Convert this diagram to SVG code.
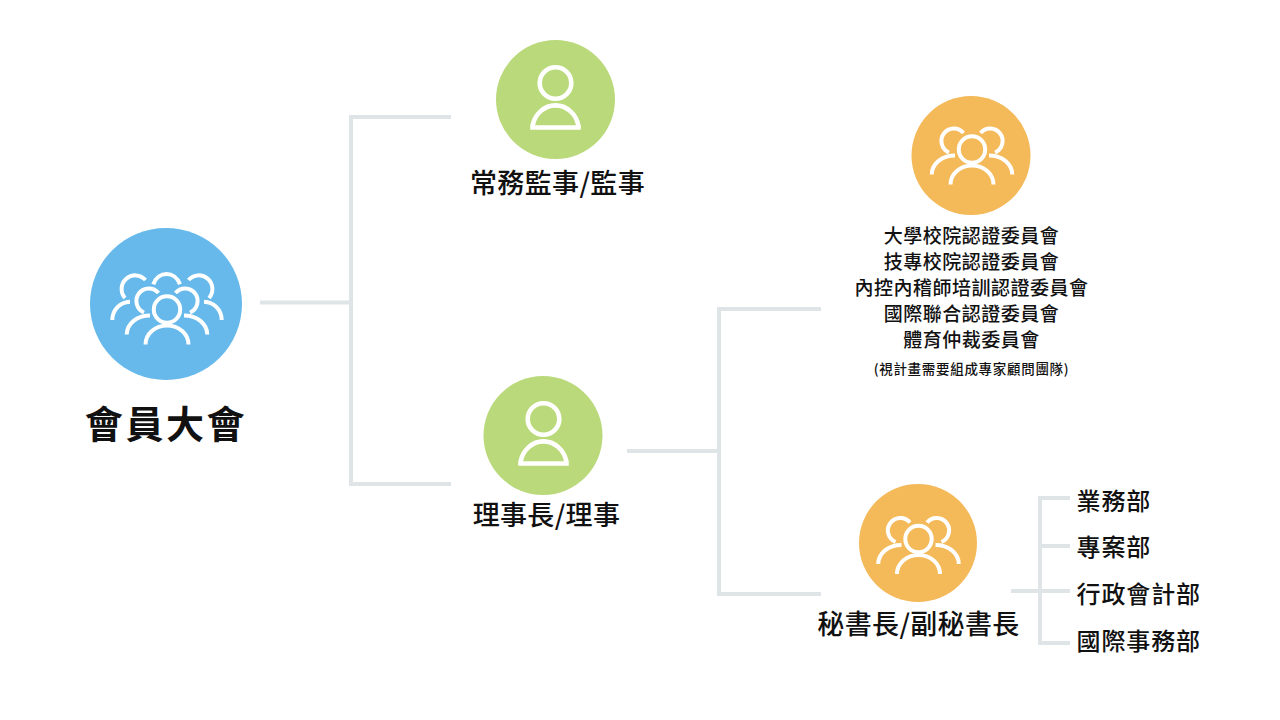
<svg xmlns="http://www.w3.org/2000/svg" width="1280" height="720" viewBox="0 0 1280 720">
<style>
text{font-family:"Noto Sans CJK TC","Noto Sans CJK SC",sans-serif;fill:#111;text-anchor:middle}
.m{font-size:27px;font-weight:500;letter-spacing:.35px}
.c{font-size:19px;font-weight:500;letter-spacing:.5px}
.d{font-size:24px;font-weight:500;letter-spacing:.9px;text-anchor:start}
.s{font-size:13.5px;font-weight:500;letter-spacing:.7px}
.l{fill:none;stroke:#dfe4e6;stroke-width:4}
.i{fill:none;stroke:#fff;stroke-width:4}
.p{stroke-width:4.600}
</style>
<defs>
<g id="person" class="i p"><circle cx="0" cy="0" r="15.800"/><path d="M-23,44.500H23V43A23.500,26 0 0 0 -23,43Z"/></g>
<g id="trio" class="i"><circle cx="0" cy="0" r="13.200"/><path d="M-21.500,35A21.500,19 0 0 1 21.500,35"/><path d="M-8.500,-16.500A12.500,12.500 0 1 0 -23,3M-40.300,25C-40,14 -30,6 -17,6"/><path d="M8.500,-16.500A12.500,12.500 0 1 1 23,3M40.300,25C40,14 30,6 17,6"/></g>
</defs>
<g id="connectors" class="l">
<path d="M260,302.500H351M451,117H351V484H451"/>
<path d="M627,451H719M821,309H719V594H821"/>
<path d="M1011,591H1070M1070,498H1040V643H1070M1040,546H1070"/>
</g>
<g id="node-assembly"><circle cx="166" cy="304" r="76" fill="#66b9ea"/>
<use href="#trio" x="167" y="309.500"/>
<path class="i" d="M153.300,284.300C158,270.500 175,270.500 180,284.300M145.500,280A12.500,12.500 0 1 0 125,298M112.300,320C112.500,310 120,302 130,301.700M188.500,280A12.500,12.500 0 1 1 209,298M221.700,320C221.500,310 214,302 204,301.700"/>
<text x="166" y="438" style="font-size:38px;font-weight:700;letter-spacing:2.600px">會員大會</text></g>
<g id="node-supervisors"><circle cx="555.500" cy="99.500" r="59.500" fill="#b9d97a"/><use href="#person" x="555.500" y="83"/>
<text class="m" x="557.500" y="193">常務監事/監事</text></g>
<g id="node-board"><circle cx="543" cy="435.500" r="59.500" fill="#b9d97a"/><use href="#person" x="543.500" y="419"/>
<text class="m" x="546.500" y="525">理事長/理事</text></g>
<g id="node-committees"><circle cx="971" cy="155.500" r="59.500" fill="#f4b959"/><use href="#trio" x="972" y="149.500"/>
<text class="c" x="971.500" y="243">大學校院認證委員會</text>
<text class="c" x="971.500" y="269">技專校院認證委員會</text>
<text class="c" x="971.500" y="295">內控內稽師培訓認證委員會</text>
<text class="c" x="971.500" y="321">國際聯合認證委員會</text>
<text class="c" x="971.500" y="347">體育仲裁委員會</text>
<text class="s" x="971.500" y="374">(視計畫需要組成專家顧問團隊)</text></g>
<g id="node-secretary"><circle cx="918" cy="543" r="59" fill="#f4b959"/><use href="#trio" x="918.500" y="539"/>
<text class="m" x="918.500" y="634">秘書長/副秘書長</text></g>
<g id="node-departments">
<text class="d" x="1076.500" y="510">業務部</text>
<text class="d" x="1076.500" y="556">專案部</text>
<text class="d" x="1076.500" y="603">行政會計部</text>
<text class="d" x="1076.500" y="650">國際事務部</text></g>
</svg>
